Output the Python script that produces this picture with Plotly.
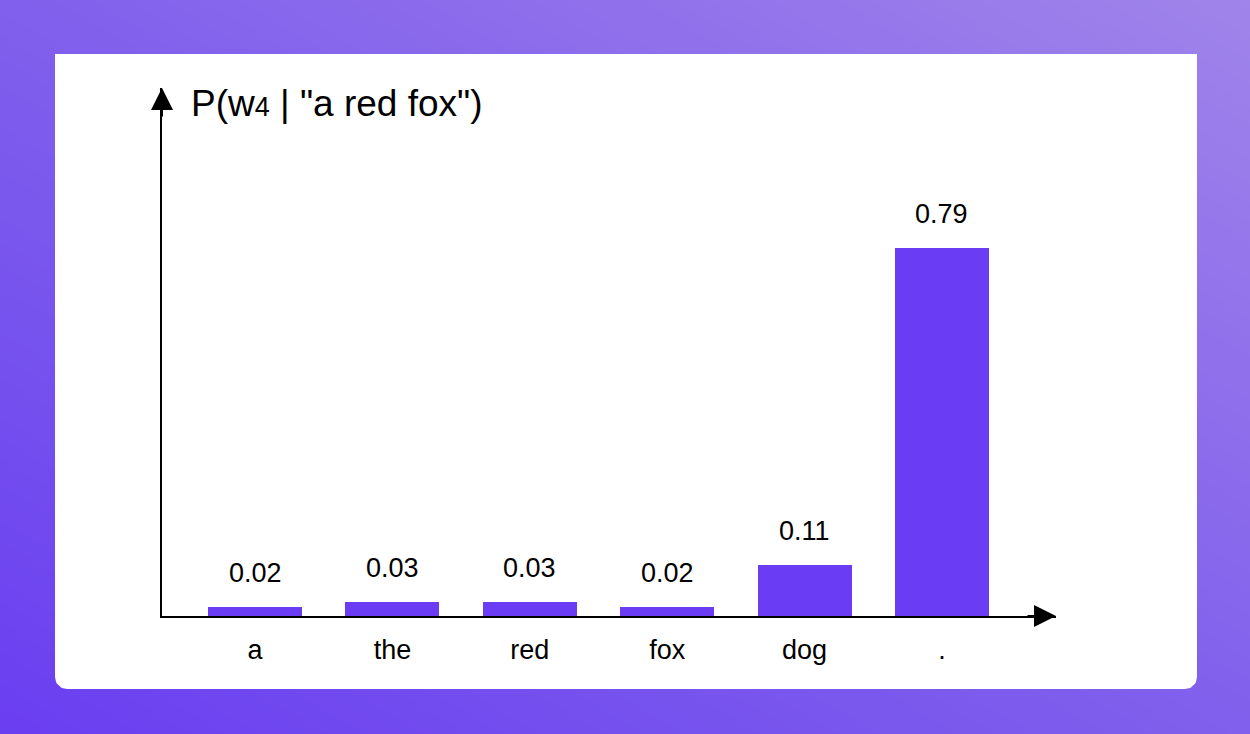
import numpy as np
import plotly.graph_objects as go

# Next-token distribution after the prompt "a red fox"
tokens = ["a", "the", "red", "fox", "dog", "."]
probs = [0.02, 0.03, 0.03, 0.02, 0.11, 0.79]
prob_labels = ["0.02", "0.03", "0.03", "0.02", "0.11", "0.79"]

W, H = 1250, 734
FONT = "Liberation Sans, Arial, Helvetica, sans-serif"
BAR_COLOR = "#6a3cf4"

fig = go.Figure()

# Diagonal purple backdrop (pixel-space helper axes x/y)
fig.add_trace(go.Heatmap(
    x=[0, W], y=[0, H],
    z=[[0.5, 1.0], [0.0, 0.5]],
    zsmooth="best",
    colorscale=[[0.0, "#6a3ef1"], [0.25, "#7550ee"], [0.5, "#8060ec"],
                [0.75, "#9171eb"], [1.0, "#a084ea"]],
    showscale=False, hoverinfo="skip",
    xaxis="x", yaxis="y",
))

# White card with rounded bottom corners
L, R, T, B, r = 55, 1197, 54, 689, 12
a1 = np.linspace(0, np.pi / 2, 12)
a2 = np.linspace(np.pi / 2, np.pi, 12)
cx = [L, R] + list(R - r + r * np.cos(a1)) + list(L + r + r * np.cos(a2)) + [L]
cy = [T, T] + list(B - r + r * np.sin(a1)) + list(B - r + r * np.sin(a2)) + [T]
fig.add_trace(go.Scatter(
    x=cx, y=cy, mode="lines", fill="toself",
    fillcolor="white", line=dict(width=0, color="white"),
    hoverinfo="skip", showlegend=False,
    xaxis="x", yaxis="y",
))

# Probability bars
fig.add_trace(go.Bar(
    x=tokens, y=probs, width=0.685,
    marker=dict(color=BAR_COLOR, line=dict(width=0)),
    hoverinfo="skip", showlegend=False,
    xaxis="x2", yaxis="y2",
))

annotations = []
for tok, p, lab in zip(tokens, probs, prob_labels):
    annotations.append(dict(
        x=tok, y=p, xref="x2", yref="y2", text=lab, showarrow=False,
        yshift=34, font=dict(family=FONT, size=27, color="black"),
    ))

# Arrow heads on the two axes
annotations.append(dict(
    x=1, y=0, xref="x2 domain", yref="y2 domain", ax=-30, ay=0,
    text="", showarrow=True, arrowhead=2, arrowsize=2.2, arrowwidth=2,
    arrowcolor="black",
))
annotations.append(dict(
    x=0, y=1, xref="x2 domain", yref="y2 domain", ax=0, ay=30,
    text="", showarrow=True, arrowhead=2, arrowsize=2.2, arrowwidth=2,
    arrowcolor="black",
))

# Axis title next to the vertical arrow
annotations.append(dict(
    x=189, y=103, xref="x", yref="y", xanchor="left", yanchor="middle",
    text='P(w<span style="font-size:27px">4</span> | "a red fox")',
    showarrow=False, font=dict(family=FONT, size=37, color="black"),
))

fig.update_layout(
    width=W, height=H,
    margin=dict(l=0, r=0, t=0, b=0),
    paper_bgcolor="#7f5aec",
    plot_bgcolor="rgba(0,0,0,0)",
    showlegend=False,
    bargap=0,
    annotations=annotations,
    xaxis=dict(domain=[0, 1], range=[0, W], visible=False, fixedrange=True),
    yaxis=dict(domain=[0, 1], range=[H, 0], visible=False, fixedrange=True),
    xaxis2=dict(
        domain=[162 / W, 1056 / W], range=[-0.677, 5.83], anchor="y2",
        type="category", categoryorder="array", categoryarray=tokens,
        showline=True, linecolor="black", linewidth=2,
        showgrid=False, zeroline=False, ticks="",
        ticklabelstandoff=9,
        tickfont=dict(family=FONT, size=27, color="black"),
    ),
    yaxis2=dict(
        domain=[(H - 616) / H, (H - 88) / H], range=[0, 1.133], anchor="x2",
        showline=True, linecolor="black", linewidth=2,
        showgrid=False, zeroline=False, showticklabels=False, ticks="",
    ),
)

fig.write_html("out.html")
